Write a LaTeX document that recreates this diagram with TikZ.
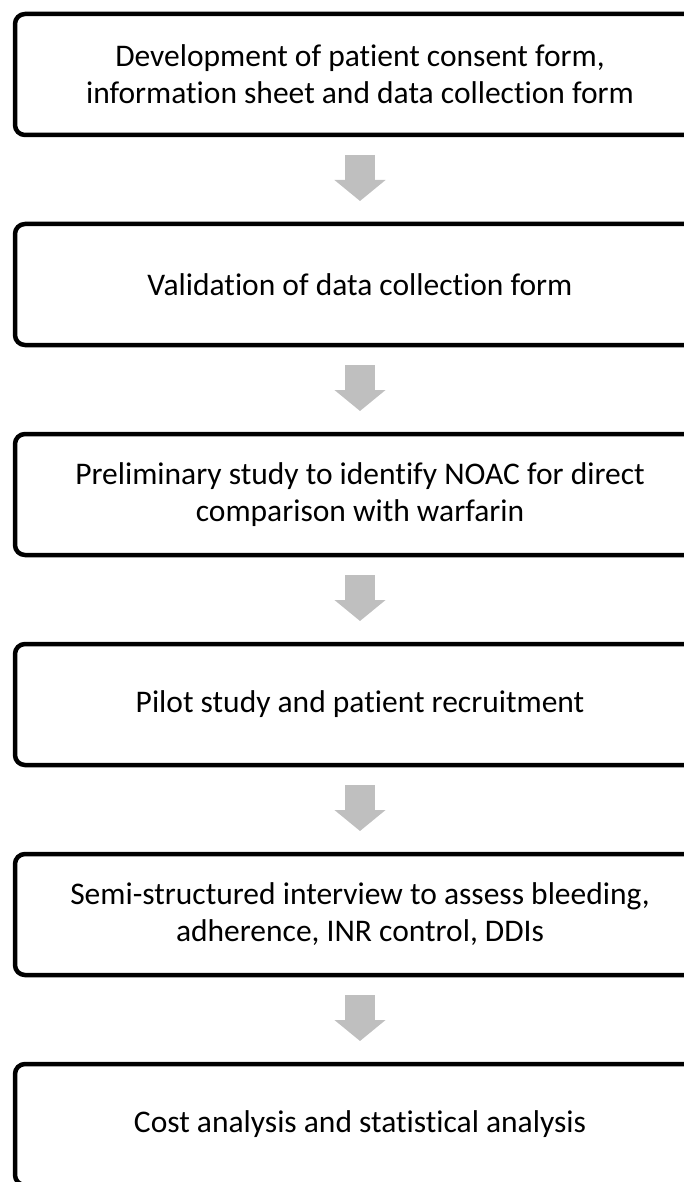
\documentclass[tikz,border=0pt]{standalone}
\usepackage{fontspec}
\setmainfont{Carlito}[Ligatures={NoCommon}]
\usepackage{tikz}
\usetikzlibrary{positioning, arrows.meta, calc}
\definecolor{arrowGray}{HTML}{BFBFBF}
\tikzset{
  stepbox/.style={draw, line width=4.5pt, rounded corners=10pt, outer sep=0pt,
    minimum width=690pt, minimum height=121pt, align=center,
    font=\fontsize{31.5}{37}\selectfont},
  downarrow/.style={arrowGray, line width=30pt, -{Triangle[length=21pt, width=50pt]}}
}

\begin{document}
\begin{tikzpicture}
  % Bildausschnitt
  \useasboundingbox (0,0) rectangle (684pt,-1182pt);
  \clip (0,0) rectangle (684pt,-1182pt);

  % Kaesten
  \node[stepbox] (s1) at (360pt,-74.5pt) {Development of patient consent form,\\information sheet and data collection form};
  \node[stepbox, below=89pt of s1] (s2) {Validation of data collection form};
  \node[stepbox, below=89pt of s2] (s3) {Preliminary study to identify NOAC for direct\\comparison with warfarin};
  \node[stepbox, below=89pt of s3] (s4) {Pilot study and patient recruitment};
  \node[stepbox, below=89pt of s4] (s5) {Semi-structured interview to assess bleeding,\\adherence, INR control, DDIs};
  \node[stepbox, below=89pt of s5] (s6) {Cost analysis and statistical analysis};

  % Pfeile
  \foreach \a/\b in {s1/s2, s2/s3, s3/s4, s4/s5, s5/s6}
    \draw[downarrow] ($(\a.south)+(0,-20pt)$) -- ($(\b.north)+(0,23pt)$);
\end{tikzpicture}
\end{document}
